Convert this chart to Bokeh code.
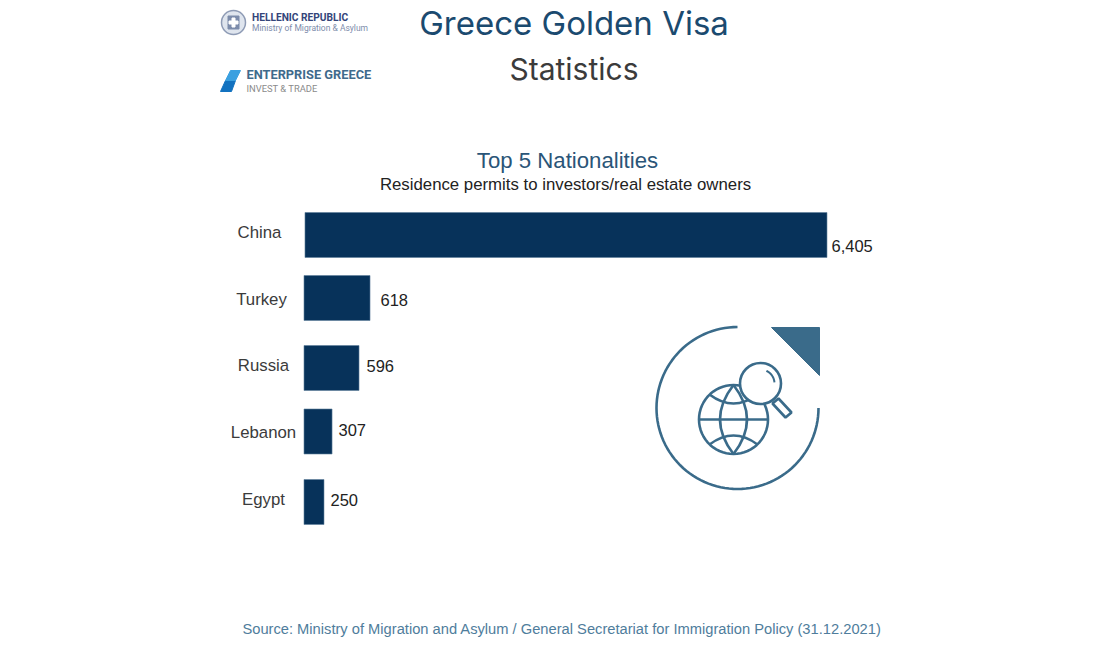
import math
from bokeh.plotting import figure
from bokeh.models import Range1d
from bokeh.core.properties import value
from bokeh.embed import file_html
from bokeh.resources import INLINE

categories = ["China", "Turkey", "Russia", "Lebanon", "Egypt"]
permits = [6405, 618, 596, 307, 250]
permit_labels = ["6,405", "618", "596", "307", "250"]
# bar lengths as drawn in the picture (the original is not to scale), in permit units
drawn_lengths = [6405, 810, 675, 344, 245]
bar_left = [6, -6, -6, -6, -6]

bar_y = [234.5, 297.5, 367.5, 431, 501.5]
cat_x = [259, 261, 263, 263, 263]
cat_y = [232, 299, 365, 432, 499]
lab_x = [831, 380, 366, 338, 330]
lab_y = [245, 299, 365, 429, 499]

NAVY = "#07325a"
TEAL = "#3a6b8a"
BLUE = "#1b4a6f"
DARK = "#3b3b3b"

W, H = 1100, 640
k = 522 / 6405
p = figure(width=W, height=H, output_backend="svg", toolbar_location=None,
           x_range=Range1d(-304 / k, (W - 304) / k), y_range=Range1d(H, 0),
           min_border=0, outline_line_color=None, background_fill_color="white")
p.extra_x_ranges["px"] = Range1d(0, W)
p.axis.visible = False
p.grid.visible = False

def text(x, y, s, size, color, font="Liberation Sans", align="left", weight="normal"):
    p.text([x], [y], text=[s], x_range_name="px", text_font=value(font),
           text_font_size=f"{size}px", text_color=color, text_align=align,
           text_baseline="middle", text_font_style=weight)

# bars
p.hbar(y=bar_y, left=bar_left, right=[l + b for l, b in zip(drawn_lengths, bar_left)],
       height=45, color=NAVY, line_color="#5f7f9c", line_width=0.6)

for c, x, y in zip(categories, cat_x, cat_y):
    text(x, y, c, 16.8, DARK, align="center")
for c, x, y in zip(permit_labels, lab_x, lab_y):
    text(x, y, c, 16.5, "#222222")

# titles
text(573.5, 22, "Greece Golden Visa", 33, BLUE, font="Inter", align="center")
text(573.5, 68, "Statistics", 30, DARK, font="Inter", align="center")
text(567, 160, "Top 5 Nationalities", 22.2, "#2a5578", align="center")
text(565, 184, "Residence permits to investors/real estate owners", 16.8, "#222222", align="center")
text(561.5, 628, "Source: Ministry of Migration and Asylum / General Secretariat for Immigration Policy (31.12.2021)",
     14.7, "#4f7d9c", align="center")

# logos
p.circle(x=[233], y=[22], radius=12, x_range_name="px", fill_color="#dfe5ee", line_color="#8e9bb5", line_width=1.5)
p.rect(x=[233], y=[22], width=[11], height=[13], x_range_name="px", color="#7d8cab")
p.rect(x=[233, 233], y=[22, 22], width=[9, 3], height=[3, 9], x_range_name="px", color="white")
text(251.5, 16.5, "HELLENIC REPUBLIC", 10.2, "#34457a", weight="bold", font="Roboto")
text(251.5, 27, "Ministry of Migration & Asylum", 8.5, "#7d8cab", font="Roboto")
p.patch([225, 235, 231, 220], [80, 80, 91, 91], x_range_name="px", color="#1272c0")
p.patch([230, 240, 235, 225], [70, 70, 80, 80], x_range_name="px", color="#3aa0e0")
text(246, 74, "ENTERPRISE GREECE", 12.8, "#3f6a8c", weight="bold", font="Roboto")
text(246, 88, "INVEST & TRADE", 9.4, "#8a8a8a", font="Roboto")

# icon
cx, cy, r = 737, 407.5, 81
t1 = [math.radians(a) for a in range(90, 361, 3)]
p.line([cx + r * math.cos(a) for a in t1], [cy - r * math.sin(a) for a in t1],
       x_range_name="px", line_color=TEAL, line_width=2.6)
p.patch([771, 819, 819], [327, 327, 375], x_range_name="px", color=TEAL)

gx, gy, gr = 733, 419, 34.5
t2 = [math.radians(a) for a in range(0, 361, 6)]
p.line([gx + gr * math.cos(a) for a in t2], [gy + gr * math.sin(a) for a in t2],
       x_range_name="px", line_color=TEAL, line_width=2.6)
p.segment([gx - gr], [gy], [gx + gr], [gy], x_range_name="px", line_color=TEAL, line_width=2.6)
p.quadratic(x0=[gx, gx], y0=[gy - gr, gy - gr], x1=[gx, gx], y1=[gy + gr, gy + gr],
            cx=[gx - 27, gx + 27], cy=[gy, gy], x_range_name="px", line_color=TEAL, line_width=2.6)
p.quadratic(x0=[gx - 24, gx - 24], y0=[gy - 25, gy + 25], x1=[gx + 24, gx + 24], y1=[gy - 25, gy + 25],
            cx=[gx, gx], cy=[gy - 7, gy + 7], x_range_name="px", line_color=TEAL, line_width=2.6)

lx, ly, lr = 760, 383, 20.5
p.patch([778, 791, 785, 772], [398, 412, 417, 403], x_range_name="px",
        fill_color="white", line_color=TEAL, line_width=2.6)
p.circle(x=[lx], y=[ly], radius=lr, x_range_name="px", fill_color="white", line_color=TEAL, line_width=2.6)
t3 = [math.radians(a) for a in range(5, 66, 6)]
p.line([lx + 14 * math.cos(a) for a in t3], [ly - 14 * math.sin(a) for a in t3],
       x_range_name="px", line_color=TEAL, line_width=2)

open("out.html", "w").write(file_html(p, INLINE))
